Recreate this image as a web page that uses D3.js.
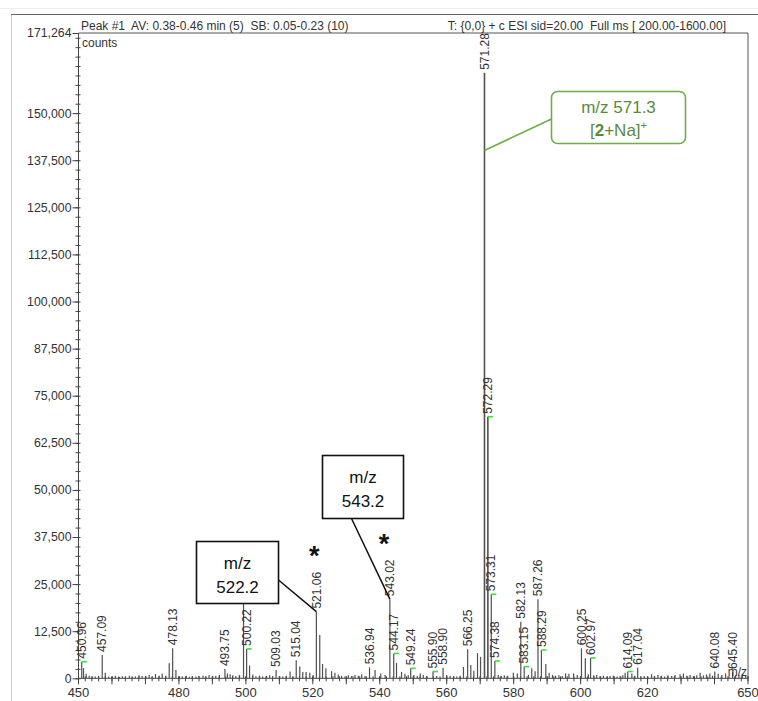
<!DOCTYPE html>
<html>
<head>
<meta charset="utf-8">
<script src="https://cdn.jsdelivr.net/npm/d3@7"></script>
<style>
  html, body { margin: 0; padding: 0; background: #fff; }
  svg { display: block; }
  text { font-family: "Liberation Sans", Arial, Helvetica, sans-serif; }
</style>
</head>
<body>
<svg id="chart" width="758" height="701"></svg>
<script>
// ---- spectrum data (m/z, counts) ----
// labelled centroid peaks
const labelledMz     = [450.96, 457.09, 478.13, 493.75, 500.22, 509.03, 515.04, 521.06, 536.94, 543.02, 544.17, 549.24, 555.90, 558.90, 566.25, 571.28, 572.29, 573.31, 574.38, 582.13, 583.15, 587.26, 588.29, 600.25, 602.97, 614.09, 617.04, 640.08, 645.40];
const labelledCounts = [4400,   6200,   8000,   2450,   7800,   2200,   4800,   17700,  2900,   21000,  6600,   2650,   1800,   2800,   7700,   160700, 69400,  22300,  4600,   15000,  3100,   21000,  7500,   7950,   5400,   1800,   2800,   1800,   1700];
// peaks carrying an isotope marker
const markedMz = [450.96, 500.22, 544.17, 549.24, 555.90, 572.29, 573.31, 574.38, 583.15, 588.29, 602.97, 614.09];

// unlabelled peaks
const minorMz = [451.5, 452.3, 453.2, 454.1, 455.0, 456.0, 458.0, 459.0, 460.1, 461.0, 462.2, 463.1, 464.0, 465.2, 466.1, 467.0, 468.1, 469.0, 470.2, 471.1, 472.0, 473.0, 474.1, 475.0, 476.1, 477.1, 479.1, 480.1, 481.0, 482.2, 483.1, 484.0, 485.1, 486.0, 487.2, 488.1, 489.0, 490.1, 491.0, 492.1, 494.5, 495.3, 496.1, 497.0, 498.1, 499.3, 501.1, 502.1, 503.0, 504.1, 505.0, 506.2, 507.1, 508.0, 510.1, 511.0, 512.1, 513.2, 514.1, 516.1, 517.0, 518.0, 519.1, 520.1, 522.07, 522.9, 523.9, 525.6, 526.6, 527.6, 528.6, 529.6, 530.6, 531.6, 532.6, 533.6, 534.6, 535.6, 538.6, 540.3, 541.6, 545.0, 546.5, 547.5, 548.5, 550.2, 551.2, 552.1, 553.0, 554.1, 557.0, 560.0, 561.0, 562.1, 563.0, 564.0, 565.0, 567.2, 568.1, 569.2, 570.1, 575.4, 576.3, 577.2, 578.2, 579.9, 581.1, 584.4, 585.4, 586.4, 589.6, 590.6, 591.6, 592.5, 593.5, 594.5, 595.5, 596.5, 597.9, 599.0, 601.4, 602.3, 603.9, 604.8, 605.8, 606.8, 607.8, 608.8, 609.8, 610.9, 611.8, 612.6, 613.3, 615.3, 616.2, 618.0, 619.0, 620.1, 621.2, 622.1, 623.1, 624.1, 625.1, 626.1, 627.2, 628.2, 629.7, 630.7, 631.7, 632.7, 633.7, 634.7, 635.7, 636.7, 637.6, 638.6, 639.4, 641.1, 642.2, 643.3, 644.3, 646.3, 647.3, 648.3, 649.3];
const minorCounts = [2700, 1200, 700, 500, 450, 650, 1500, 500, 450, 650, 350, 550, 400, 650, 350, 500, 800, 600, 450, 900, 500, 1100, 650, 1300, 700, 4000, 2200, 600, 500, 700, 400, 550, 450, 600, 700, 500, 800, 600, 700, 900, 1300, 1100, 800, 600, 900, 22000, 3400, 1000, 550, 700, 450, 600, 800, 500, 600, 450, 700, 1800, 500, 3100, 1700, 1700, 1500, 900, 11500, 3800, 2700, 1900, 1500, 1000, 700, 500, 800, 600, 900, 700, 1100, 600, 2200, 1300, 900, 4100, 1700, 1200, 800, 900, 600, 1300, 900, 700, 600, 900, 700, 600, 450, 700, 3000, 3500, 2000, 6700, 5700, 900, 600, 800, 700, 1500, 1300, 900, 2650, 1900, 3800, 1500, 900, 700, 800, 600, 1300, 1200, 1300, 900, 5300, 1100, 800, 900, 600, 700, 500, 600, 700, 500, 600, 800, 1500, 1300, 700, 500, 600, 500, 1100, 600, 900, 700, 500, 800, 600, 900, 1100, 1300, 700, 900, 600, 800, 1500, 800, 1000, 1300, 700, 1200, 900, 1300, 600, 800, 900, 1200, 600, 800];

// axis ticks
const yMax = 171264;
const yTickValues = [0, 12500, 25000, 37500, 50000, 62500, 75000, 87500, 100000, 112500, 125000, 137500, 150000];
const xTickLabels = [450, 480, 500, 520, 540, 560, 580, 600, 620, 650];

// header texts and annotations
const headerLeft  = "Peak #1  AV: 0.38-0.46 min (5)  SB: 0.05-0.23 (10)";
const headerRight = "T: {0,0} + c ESI sid=20.00  Full ms [ 200.00-1600.00]";
const boxNotes = [
  { lines: ["m/z", "522.2"], target: 521.06 },
  { lines: ["m/z", "543.2"], target: 543.02 }
];
const starredMz = [521.06, 543.02];
const mainIonMz = 571.28;

// ---- drawing ----
const svg = d3.select("#chart");
const plotL = 78.5, plotR = 748, plotT = 33, plotB = 678.3;

const x = d3.scaleLinear().domain([450, 650]).range([plotL, plotR]);
const y = d3.scaleLinear().domain([0, yMax]).range([plotB, plotT]);

// outer frame lines
svg.append("line").attr("x1", 11.5).attr("x2", 11.5).attr("y1", 14).attr("y2", 701)
  .attr("stroke", "#cfcfcf").attr("stroke-width", 1);
svg.append("line").attr("x1", 11).attr("x2", 758).attr("y1", 14.5).attr("y2", 14.5)
  .attr("stroke", "#6a6a6a").attr("stroke-width", 1);
svg.append("line").attr("x1", 0).attr("x2", 758).attr("y1", 8.5).attr("y2", 8.5)
  .attr("stroke", "#ececec").attr("stroke-width", 1);

// plot frame (top and right)
svg.append("path")
  .attr("d", `M${plotL},${plotT}H${plotR}V${plotB}`)
  .attr("fill", "none").attr("stroke", "#555").attr("stroke-width", 1);

// header
svg.append("text").attr("x", 81).attr("y", 29.5).attr("font-size", 12).attr("fill", "#333")
  .style("white-space", "pre").text(headerLeft);
svg.append("text").attr("x", 726).attr("y", 29.5).attr("font-size", 12).attr("fill", "#333")
  .attr("text-anchor", "end").style("white-space", "pre").text(headerRight);
svg.append("text").attr("x", 82).attr("y", 47).attr("font-size", 12).attr("fill", "#333").text("counts");

// y axis
const yMinor = d3.range(0, yMax, 2500);
const yAxisG = svg.append("g").attr("transform", `translate(${plotL},0)`);
yAxisG.append("line").attr("y1", plotT).attr("y2", plotB).attr("stroke", "#444");
yAxisG.selectAll("line.minor").data(yMinor).join("line").attr("class", "minor")
  .attr("x1", -3).attr("x2", 2).attr("y1", d => y(d) + 0.5).attr("y2", d => y(d) + 0.5)
  .attr("stroke", "#444");
yAxisG.append("g").call(
  d3.axisLeft(y).tickValues(yTickValues.concat([yMax])).tickFormat(d3.format(",")).tickSize(6).tickSizeOuter(0)
).call(g => {
  g.select(".domain").remove();
  g.selectAll("line").attr("stroke", "#444");
  g.selectAll("text").attr("font-size", 12.3).attr("fill", "#333")
    .attr("font-family", "Liberation Sans, Arial, sans-serif").attr("x", -7);
});

// x axis
const xMinor = d3.range(450, 651, 2);
const xMajor = d3.range(450, 651, 10);
const xAxisG = svg.append("g").attr("transform", `translate(0,${plotB})`);
xAxisG.append("line").attr("x1", plotL).attr("x2", plotR).attr("stroke", "#444");
xAxisG.selectAll("line.minor").data(xMinor).join("line").attr("class", "minor")
  .attr("x1", d => x(d)).attr("x2", d => x(d)).attr("y1", -2).attr("y2", 3).attr("stroke", "#444");
xAxisG.selectAll("line.major").data(xMajor).join("line").attr("class", "major")
  .attr("x1", d => x(d)).attr("x2", d => x(d)).attr("y1", -2).attr("y2", 6).attr("stroke", "#444");
xAxisG.selectAll("text").data(xTickLabels).join("text")
  .attr("x", d => x(d)).attr("y", 19).attr("text-anchor", "middle")
  .attr("font-size", 13).attr("fill", "#333").text(d => d);

// peaks
const peaks = minorMz.map((m, i) => ({ mz: m, c: minorCounts[i] }))
  .concat(labelledMz.map((m, i) => ({ mz: m, c: labelledCounts[i], label: true })));
svg.append("g").selectAll("line").data(peaks).join("line")
  .attr("x1", d => x(d.mz)).attr("x2", d => x(d.mz))
  .attr("y1", plotB).attr("y2", d => y(d.c))
  .attr("stroke", "#505050")
  .attr("stroke-width", d => d.c > 50000 ? 1.6 : 1.2);

// isotope markers
const countOf = m => labelledCounts[labelledMz.indexOf(m)];
svg.append("g").selectAll("line").data(markedMz).join("line")
  .attr("x1", d => x(d)).attr("x2", d => x(d) + 5)
  .attr("y1", d => y(countOf(d))).attr("y2", d => y(countOf(d)))
  .attr("stroke", "#2ee82e").attr("stroke-width", 1.6);

// peak labels
svg.append("g").selectAll("text").data(labelledMz).join("text")
  .attr("transform", d => `translate(${x(d) + 1},${y(countOf(d)) - 3}) rotate(-90)`)
  .attr("dominant-baseline", "middle")
  .attr("font-size", 12).attr("fill", "#333")
  .text(d => d.toFixed(2));

// bottom-right axis title
svg.append("text").attr("x", 747).attr("y", 676).attr("text-anchor", "end")
  .attr("font-size", 12).attr("fill", "#333").text("m/z");

// boxed annotations
const boxes = [
  { x0: 196.5, y0: 541.5, w: 82, h: 62, lx: 278.5, ly: 580 },
  { x0: 322.5, y0: 455.5, w: 81, h: 63, lx: 351.5, ly: 518.5 }
];
boxNotes.forEach((n, i) => {
  const b = boxes[i];
  svg.append("line").attr("x1", b.lx).attr("y1", b.ly)
    .attr("x2", x(n.target)).attr("y2", y(countOf(n.target)))
    .attr("stroke", "#111").attr("stroke-width", 1.5);
  svg.append("rect").attr("x", b.x0).attr("y", b.y0).attr("width", b.w).attr("height", b.h)
    .attr("fill", "#fff").attr("stroke", "#111").attr("stroke-width", 1.6);
  n.lines.forEach((t, j) => {
    svg.append("text").attr("x", b.x0 + b.w / 2).attr("y", b.y0 + 27 + j * 24)
      .attr("text-anchor", "middle").attr("font-family", "Noto Sans, Open Sans, sans-serif")
      .attr("font-size", 17).attr("fill", "#111").text(t);
  });
});

// asterisks over the marked fragment peaks
const starPos = [{ dx: -2, y: 565 }, { dx: -6, y: 553 }];
starredMz.forEach((m, i) => {
  svg.append("text").attr("x", x(m) + starPos[i].dx).attr("y", starPos[i].y)
    .attr("text-anchor", "middle").attr("font-family", "DejaVu Sans, sans-serif")
    .attr("font-size", 27).attr("font-weight", "bold").attr("fill", "#111").text("*");
});

// main ion callout
const gb = { x0: 551.5, y0: 91.5, w: 134, h: 52 };
const green = "#70ad47";
svg.append("line").attr("x1", gb.x0).attr("y1", 119)
  .attr("x2", x(mainIonMz)).attr("y2", 150.5)
  .attr("stroke", green).attr("stroke-width", 1.6);
svg.append("rect").attr("x", gb.x0).attr("y", gb.y0).attr("width", gb.w).attr("height", gb.h)
  .attr("rx", 6).attr("ry", 6).attr("fill", "#fff").attr("stroke", green).attr("stroke-width", 1.6);
svg.append("text").attr("x", gb.x0 + gb.w / 2).attr("y", 112.5).attr("text-anchor", "middle")
  .attr("font-family", "Noto Sans, Open Sans, sans-serif").attr("font-size", 17)
  .attr("fill", "#5a8a3c").text("m/z 571.3");
const t2 = svg.append("text").attr("x", gb.x0 + gb.w / 2).attr("y", 136).attr("text-anchor", "middle")
  .attr("font-family", "Noto Sans, Open Sans, sans-serif").attr("font-size", 17).attr("fill", "#5a8a3c");
t2.append("tspan").text("[");
t2.append("tspan").attr("font-weight", "bold").text("2");
t2.append("tspan").text("+Na]");
t2.append("tspan").attr("font-size", 11).attr("dy", -7).text("+");
</script>
</body>
</html>
